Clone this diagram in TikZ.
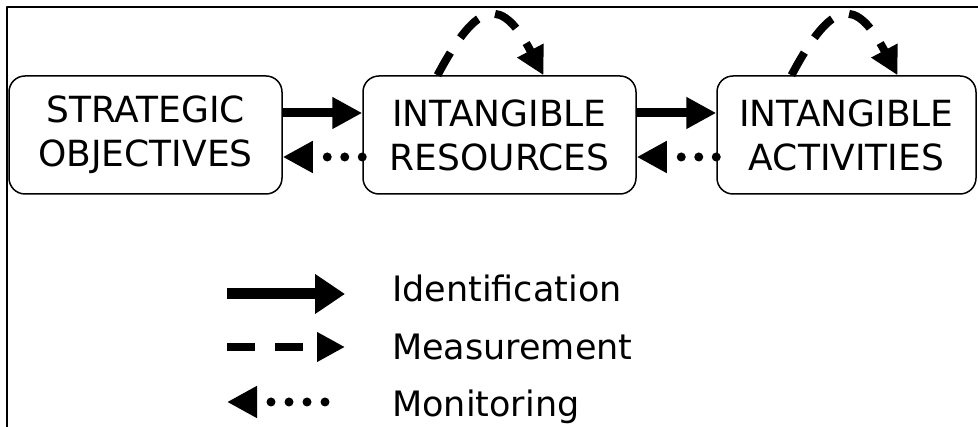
\documentclass[tikz,border=0pt]{standalone}
\usepackage{fontspec}
\setmainfont{DejaVu Sans}
\usetikzlibrary{arrows.meta}

\begin{document}
\begin{tikzpicture}[x=1pt, y=1pt, line join=round, >=Triangle,
  box/.style={draw, line width=1.5pt, rounded corners=16pt, minimum height=118pt,
    inner sep=0pt, align=center, font=\fontsize{36}{44}\selectfont},
  ident/.style={line width=9pt, -{Triangle[length=30pt,width=30pt]}},
  meas/.style={line width=8pt, dash pattern=on 26pt off 18pt, -{Triangle[length=28pt,width=28pt]}},
  moni/.style={line width=9pt, line cap=round, dash pattern=on 0pt off 17.5pt,
    -{Triangle[length=30pt,width=30pt]}},
  legtext/.style={anchor=base west, inner sep=0pt, font=\fontsize{35}{40}\selectfont}]
  \useasboundingbox (0,0) rectangle (978,427);
  \draw[line width=2pt] (978,420) -- (7,420) -- (7,0);

  \node[box, minimum width=273pt] (obj) at (145.5,292) {STRATEGIC\\OBJECTIVES};
  \node[box, minimum width=273pt] (res) at (499.5,292) {INTANGIBLE\\RESOURCES};
  \node[box, minimum width=259pt] (act) at (846.5,292) {INTANGIBLE\\ACTIVITIES};

  \draw[ident] ([yshift=22pt]obj.east) -- ([yshift=22pt]res.west);
  \draw[ident] ([yshift=22pt]res.east) -- ([yshift=22pt]act.west);
  \draw[moni] ([yshift=-22pt]res.west) -- ([yshift=-22pt]obj.east);
  \draw[moni] ([yshift=-22pt]act.west) -- ([yshift=-22pt]res.east);
  \draw[meas] ([xshift=-62pt]res.north) .. controls +(62:88) and +(118:88) .. ([xshift=44pt]res.north);
  \draw[meas] ([xshift=-55pt]act.north) .. controls +(62:88) and +(118:88) .. ([xshift=51pt]act.north);

  \coordinate (i1) at (227,133);
  \coordinate (i2) at (345,133);
  \coordinate (m1) at (227,80);
  \coordinate (m2) at (345,80);
  \coordinate (n1) at (325,25);
  \coordinate (n2) at (227,25);
  \draw[ident, line width=11pt, -{Triangle[length=30pt,width=38pt]}] (i1) -- (i2);
  \draw[meas, dash pattern=on 28pt off 20pt] (m1) -- (m2);
  \draw[moni, dash pattern=on 0pt off 18pt] (n1) -- (n2);
  \node[legtext] (identtext) at (392,125) {Identification};
  \node[legtext] (meastext) at (392,67) {Measurement};
  \node[legtext] (monitext) at (392,10) {Monitoring};
\end{tikzpicture}
\end{document}
